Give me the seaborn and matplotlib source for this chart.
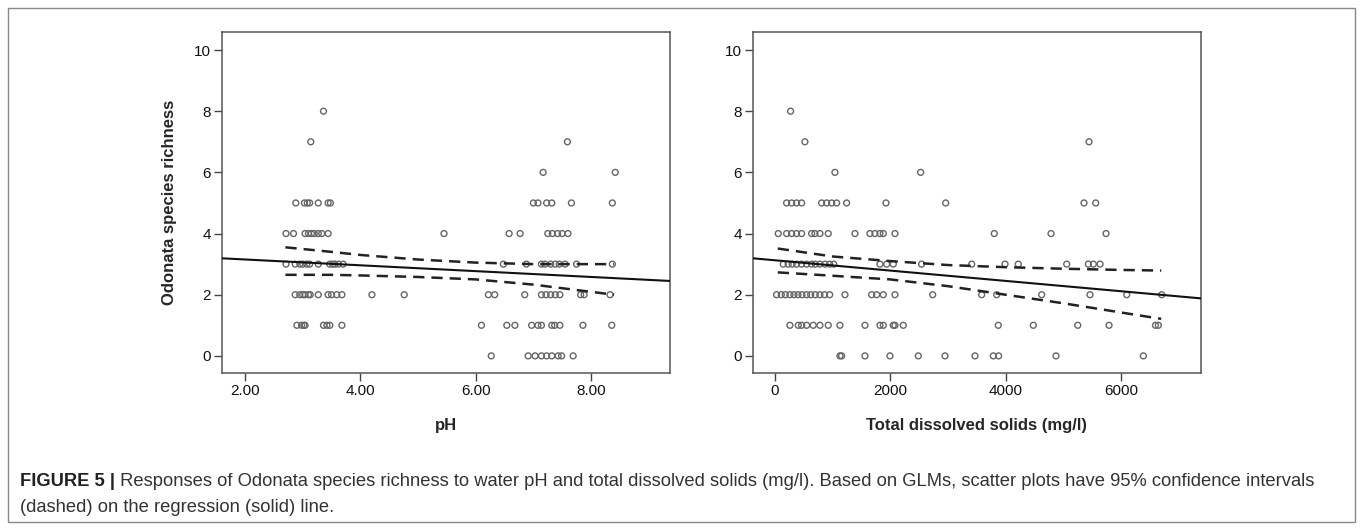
import matplotlib
matplotlib.use('Agg')
import matplotlib.pyplot as plt
import numpy as np
import pandas as pd
import seaborn as sns
from matplotlib.patches import Rectangle

# pH values of the sites, grouped by observed species richness
ph_by_richness = {
    8: [3.36],
    7: [3.14, 7.59],
    6: [7.17, 8.42],
    5: [2.88, 3.03, 3.08, 3.12, 3.27, 3.44, 3.48, 7.00, 7.08, 7.23, 7.32, 7.66, 8.37],
    4: [2.71, 2.84, 3.04, 3.10, 3.15, 3.20, 3.27, 3.33, 3.44, 5.45, 6.58, 6.77,
        7.25, 7.33, 7.42, 7.50, 7.60],
    3: [2.71, 2.87, 2.95, 3.00, 3.07, 3.12, 3.27, 3.47, 3.52, 3.56, 3.62, 3.70,
        6.48, 6.88, 7.14, 7.20, 7.30, 7.38, 7.45, 7.55, 7.75, 8.37],
    2: [2.87, 2.95, 3.00, 3.04, 3.10, 3.13, 3.27, 3.44, 3.50, 3.59, 3.68, 4.20,
        4.76, 6.22, 6.33, 6.85, 7.14, 7.22, 7.30, 7.38, 7.46, 7.82, 7.88, 8.33],
    1: [2.90, 2.98, 3.02, 3.04, 3.36, 3.42, 3.47, 3.68, 6.10, 6.54, 6.68, 6.97,
        7.08, 7.14, 7.32, 7.37, 7.46, 7.86, 8.36],
    0: [6.27, 6.91, 7.03, 7.14, 7.23, 7.32, 7.43, 7.49, 7.69],
}

# total dissolved solids (mg/l), grouped by richness
tds_by_richness = {
    8: [272],
    7: [520, 5448],
    6: [1041, 2528],
    5: [203, 290, 376, 463, 810, 897, 984, 1070, 1244, 1926, 2962, 5361, 5564],
    4: [58, 203, 290, 376, 463, 637, 694, 781, 925, 1388, 1648, 1735, 1822,
        1880, 2082, 3805, 4789, 5743],
    3: [145, 230, 300, 376, 463, 550, 637, 700, 780, 870, 950, 1020, 1822, 1938,
        2053, 2545, 3413, 3991, 4221, 5061, 5436, 5523, 5639],
    2: [29, 110, 180, 260, 330, 400, 470, 550, 620, 700, 780, 860, 950, 1215,
        1678, 1764, 1880, 2082, 2736, 3586, 3846, 4627, 5465, 6102, 6709],
    1: [260, 405, 463, 550, 665, 781, 925, 1128, 1562, 1822, 1880, 2053, 2082,
        2226, 3874, 4482, 5252, 5795, 6600, 6650],
    0: [1128, 1157, 1562, 1995, 2487, 2950, 3470, 3788, 3880, 4875, 6390],
}

# GLM fit (solid) and 95% CI (dashed)
ph_fit_x = [1.60, 9.37]
ph_fit_y = [3.19, 2.45]
ph_ci_x = [2.7, 3.5, 4.0, 5.0, 6.0, 7.0, 8.4]
ph_ci_hi = [3.55, 3.40, 3.30, 3.15, 3.05, 3.00, 3.00]
ph_ci_lo = [2.65, 2.65, 2.63, 2.58, 2.50, 2.33, 2.00]

tds_fit_x = [-380, 7390]
tds_fit_y = [3.19, 1.88]
tds_ci_x = [50, 1000, 2000, 3000, 4000, 5000, 6000, 6700]
tds_ci_hi = [3.51, 3.25, 3.10, 2.97, 2.90, 2.85, 2.81, 2.79]
tds_ci_lo = [2.73, 2.62, 2.50, 2.28, 2.00, 1.72, 1.42, 1.21]

ph_ticks = [2, 4, 6, 8]
tds_ticks = [0, 2000, 4000, 6000]
y_ticks = [0, 2, 4, 6, 8, 10]


def to_frame(groups):
    rows = [(x, r) for r, xs in groups.items() for x in xs]
    return pd.DataFrame(rows, columns=['x', 'richness'])


sns.set_style('white')
plt.rcParams['font.family'] = ['Liberation Sans', 'DejaVu Sans']

fig = plt.figure(figsize=(13.63, 5.30), dpi=100)
ax1 = fig.add_axes([222 / 1363, 1 - 373 / 530, 448 / 1363, 341 / 530])
ax2 = fig.add_axes([753 / 1363, 1 - 373 / 530, 448 / 1363, 341 / 530])

panels = [
    (ax1, ph_by_richness, ph_fit_x, ph_fit_y, ph_ci_x, ph_ci_hi, ph_ci_lo,
     ph_ticks, (1.60, 9.37), 'pH'),
    (ax2, tds_by_richness, tds_fit_x, tds_fit_y, tds_ci_x, tds_ci_hi, tds_ci_lo,
     tds_ticks, (-380, 7390), 'Total dissolved solids (mg/l)'),
]

for ax, groups, fx, fy, cx, chi, clo, xt, xl, xlabel in panels:
    df = to_frame(groups)
    sns.scatterplot(data=df, x='x', y='richness', ax=ax, marker='o', s=18,
                    facecolor='none', edgecolor='#666666', linewidth=1.0,
                    zorder=3)
    sns.lineplot(x=fx, y=fy, ax=ax, color='#111111', linewidth=1.5,
                 estimator=None, zorder=4)
    for cy in (chi, clo):
        sns.lineplot(x=cx, y=cy, ax=ax, color='#222222', linewidth=1.8,
                     estimator=None, zorder=4, linestyle=(0, (4.5, 2.8)))
    ax.set_xlim(*xl)
    ax.set_ylim(-0.56, 10.59)
    ax.set_xticks(xt)
    if xt[0] == 2:
        ax.set_xticklabels([f'{v:.2f}' for v in xt])
    ax.set_yticks(y_ticks)
    ax.tick_params(axis='both', direction='out', length=6, width=1.0,
                   color='#444444', labelsize=11, labelcolor='#111111',
                   left=True, bottom=True, pad=2)
    for sp in ax.spines.values():
        sp.set_color('#555555')
        sp.set_linewidth(1.1)
    ax.set_xlabel(xlabel, fontsize=12, fontweight='bold', labelpad=14)
    ax.set_ylabel('')

ax1.set_ylabel('Odonata species richness', fontsize=12, fontweight='bold',
               labelpad=12)

# outer frame of the figure panel
fig.patches.append(Rectangle((8 / 1363, 8 / 530), 1347 / 1363, 514 / 530,
                             transform=fig.transFigure, fill=False,
                             edgecolor='#888888', linewidth=1.0))

# caption
cap_x = 20 / 1363
cap_size = 13.2
t_bold = fig.text(cap_x, 1 - 486 / 530, 'FIGURE 5 |', fontsize=cap_size,
                  fontweight='bold', color='#222222', va='baseline')
fig.canvas.draw()
bb = t_bold.get_window_extent()
rest = (' Responses of Odonata species richness to water pH and total dissolved '
        'solids (mg/l). Based on GLMs, scatter plots have 95% confidence intervals')
fig.text(bb.x1 / 1363, 1 - 486 / 530, rest, fontsize=cap_size,
         color='#333333', va='baseline')
fig.text(cap_x, 1 - 512 / 530, '(dashed) on the regression (solid) line.',
         fontsize=cap_size, color='#333333', va='baseline')

fig.savefig('out.png', dpi=100)
